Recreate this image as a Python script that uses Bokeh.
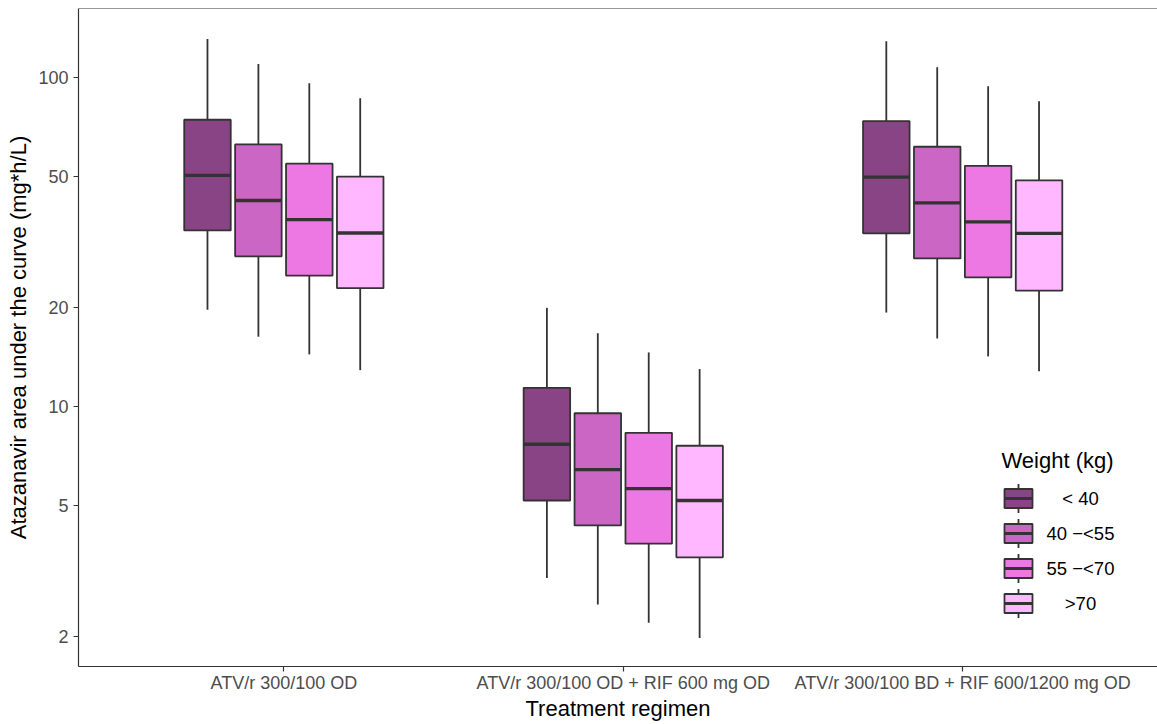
from bokeh.plotting import figure
from bokeh.models import (Range1d, FixedTicker, PrintfTickFormatter, Span,
                          ColumnDataSource, BoxAnnotation, Arrow, Label)
from bokeh.embed import file_html
from bokeh.resources import INLINE

# ---- data -------------------------------------------------------------
regimens = ["ATV/r 300/100 OD",
            "ATV/r 300/100 OD + RIF 600 mg OD",
            "ATV/r 300/100 BD + RIF 600/1200 mg OD"]
weight_groups = ["< 40", "40 \u2212<55", "55 \u2212<70", ">70"]

# AUC summary per regimen (rows) and weight group (columns), mg*h/L
whisker_low = [[19.7, 16.3, 14.4, 12.9],
               [3.01, 2.50, 2.20, 1.98],
               [19.3, 16.1, 14.2, 12.8]]
q1 = [[34.3, 28.6, 25.0, 22.9],
      [5.18, 4.35, 3.83, 3.48],
      [33.6, 28.2, 24.7, 22.5]]
median = [[50.4, 42.3, 37.0, 33.7],
          [7.68, 6.43, 5.63, 5.18],
          [49.8, 41.6, 36.4, 33.6]]
q3 = [[74.4, 62.6, 54.7, 50.0],
      [11.4, 9.54, 8.32, 7.60],
      [73.7, 61.6, 53.9, 48.7]]
whisker_high = [[131.0, 110.0, 96.1, 86.5],
                [19.95, 16.7, 14.6, 13.0],
                [128.9, 107.5, 94.1, 84.7]]

y_ticks = [2, 5, 10, 20, 50, 100]

# ---- style ------------------------------------------------------------
FONT = "Liberation Sans"
fills = ["#894485", "#CC66C4", "#ED78E4", "#FFB8FF"]
edge = "#333333"
dodge_step = 0.15
box_width = 0.137
lw = 1.8

p = figure(width=1157, height=724, y_axis_type="log",
           x_range=Range1d(0.395, 3.574), y_range=Range1d(1.621, 162.1),
           output_backend="svg", toolbar_location=None,
           min_border_left=78, min_border_right=0,
           min_border_top=8, min_border_bottom=58)
p.outline_line_color = None
p.background_fill_color = "white"
p.border_fill_color = "white"
p.xgrid.visible = False
p.ygrid.visible = False

for j, group in enumerate(weight_groups):
    xs = [i + 1 + (j - 1.5) * dodge_step for i in range(len(regimens))]
    src = ColumnDataSource(dict(
        x=xs,
        x0=[x - box_width / 2 for x in xs],
        x1=[x + box_width / 2 for x in xs],
        lo=[row[j] for row in whisker_low],
        q1=[row[j] for row in q1],
        med=[row[j] for row in median],
        q3=[row[j] for row in q3],
        hi=[row[j] for row in whisker_high],
    ))
    p.segment(x0="x", y0="lo", x1="x", y1="q1", source=src,
              line_color=edge, line_width=lw)
    p.segment(x0="x", y0="q3", x1="x", y1="hi", source=src,
              line_color=edge, line_width=lw)
    p.vbar(x="x", width=box_width, bottom="q1", top="q3", source=src,
           fill_color=fills[j], line_color=edge, line_width=lw)
    p.segment(x0="x0", y0="med", x1="x1", y1="med", source=src,
              line_color=edge, line_width=3.4)

# top edge of the panel
p.add_layout(Span(location=162.1, dimension="width",
                  line_color=edge, line_width=1.2))

# ---- axes -------------------------------------------------------------
for ax in (p.xaxis, p.yaxis):
    ax.axis_line_color = edge
    ax.axis_line_width = 1.2
    ax.major_tick_line_color = edge
    ax.major_tick_line_width = 1.2
    ax.major_tick_out = 5
    ax.major_tick_in = 0
    ax.minor_tick_line_color = None
    ax.major_label_text_font = FONT
    ax.major_label_text_font_size = "18px"
    ax.major_label_text_color = "#4D4D4D"
    ax.axis_label_text_font = FONT
    ax.axis_label_text_font_size = "22px"
    ax.axis_label_text_font_style = "normal"
    ax.axis_label_text_color = "black"

p.xaxis.ticker = FixedTicker(ticks=[i + 1 for i in range(len(regimens))])
p.xaxis.major_label_overrides = {i + 1: r for i, r in enumerate(regimens)}
p.xaxis.major_label_standoff = 1
p.xaxis.axis_label = "Treatment regimen"
p.xaxis.axis_label_standoff = 0

p.yaxis.ticker = FixedTicker(ticks=y_ticks)
p.yaxis.formatter = PrintfTickFormatter(format="%d")
p.yaxis.major_label_standoff = 5
p.yaxis.axis_label = "Atazanavir area under the curve (mg*h/L)"
p.yaxis.axis_label_standoff = 4

# ---- legend (boxplot keys, screen units from the panel's lower left) --
key_left, key_w, key_h, whisk_h = 926, 28, 19, 29
key_top_center, key_pitch = 168, 35
label_center_x = 1002

p.add_layout(Label(x=key_left - 3, y=key_top_center + 38,
                   x_units="screen", y_units="screen",
                   text="Weight (kg)", text_font=FONT,
                   text_font_size="22px", text_color="black",
                   text_align="left", text_baseline="middle"))

for j, group in enumerate(weight_groups):
    cy = key_top_center - j * key_pitch
    cx = key_left + key_w / 2
    p.add_layout(Arrow(start=None, end=None,
                       x_start=cx, y_start=cy - whisk_h / 2,
                       x_end=cx, y_end=cy + whisk_h / 2,
                       start_units="screen", end_units="screen",
                       line_color=edge, line_width=lw))
    p.add_layout(BoxAnnotation(left=key_left, right=key_left + key_w,
                               bottom=cy - key_h / 2, top=cy + key_h / 2,
                               left_units="screen", right_units="screen",
                               bottom_units="screen", top_units="screen",
                               fill_color=fills[j], fill_alpha=1,
                               line_color=edge, line_alpha=1,
                               line_width=lw))
    p.add_layout(Arrow(start=None, end=None,
                       x_start=key_left, y_start=cy,
                       x_end=key_left + key_w, y_end=cy,
                       start_units="screen", end_units="screen",
                       line_color=edge, line_width=3))
    p.add_layout(Label(x=label_center_x, y=cy,
                       x_units="screen", y_units="screen",
                       text=group, text_font=FONT,
                       text_font_size="18.5px", text_color="black",
                       text_align="center", text_baseline="middle"))

open("out.html", "w").write(file_html(p, INLINE))
